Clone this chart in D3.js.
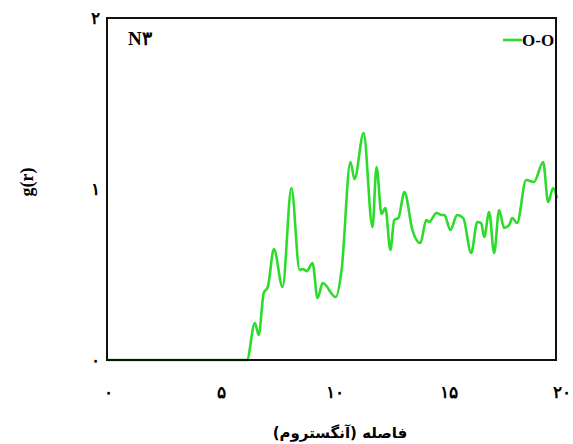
<!DOCTYPE html>
<html>
<head>
<meta charset="utf-8">
<script src="https://cdn.jsdelivr.net/npm/d3@7"></script>
<style>
  html, body { margin: 0; padding: 0; background: #fff; }
  svg { display: block; }
</style>
</head>
<body>
<svg id="chart" width="573" height="444"></svg>
<script>
// Radial distribution function g(r), O-O pair, sample N3
const distance = [0, 6.12, 6.47, 6.64, 6.86, 7.04, 7.31, 7.69, 8.08, 8.44, 8.58, 8.75, 9.01, 9.23, 9.46, 10.03,
  10.29, 10.68, 10.86, 11.26, 11.65, 11.83, 12.05, 12.22, 12.44, 12.61, 12.79, 13.06, 13.41, 13.76, 14.02,
  14.15, 14.47, 14.69, 14.82, 15.08, 15.38, 15.65, 16.00, 16.27, 16.44, 16.57, 16.79, 17.01, 17.23, 17.45,
  17.67, 17.81, 18.02, 18.42, 18.77, 19.17, 19.39, 19.61, 19.78];
const gOO = [0, 0, 0.216, 0.146, 0.392, 0.427, 0.649, 0.427, 1.006, 0.526, 0.532, 0.520, 0.567, 0.363, 0.450, 0.368,
  0.526, 1.158, 1.058, 1.327, 0.778, 1.129, 0.854, 0.889, 0.643, 0.819, 0.830, 0.982, 0.760, 0.684, 0.819,
  0.807, 0.860, 0.848, 0.848, 0.760, 0.848, 0.830, 0.626, 0.807, 0.801, 0.719, 0.865, 0.626, 0.877, 0.772,
  0.789, 0.830, 0.801, 1.053, 1.041, 1.158, 0.924, 1.006, 0.947];

const xTicks = [0, 5, 10, 15, 20];
const yTicks = [0, 1, 2];
const xMax = 19.78;          // right edge of the plotted range
const seriesName = "O-O";
const panelTitle = "N۳";
const xTitle = "فاصله (آنگستروم)";
const yTitle = "g(r)";

const toPersian = n => String(n).replace(/\d/g, d => "۰۱۲۳۴۵۶۷۸۹"[d]);

const svg = d3.select("#chart");
const x = d3.scaleLinear().domain([0, 20]).range([108, 562]);
const y = d3.scaleLinear().domain([0, 2]).range([360, 18]);

const serif = "'Liberation Serif', 'DejaVu Serif', serif";

// curve
const line = d3.line()
  .x((d, i) => x(distance[i]))
  .y(d => y(d))
  .curve(d3.curveMonotoneX);

svg.append("path")
  .datum(gOO)
  .attr("d", line)
  .attr("fill", "none")
  .attr("stroke", "#2bdc2b")
  .attr("stroke-width", 2.6)
  .attr("stroke-linejoin", "round");

// frame
svg.append("rect")
  .attr("x", x(0) - 1)
  .attr("y", y(2))
  .attr("width", x(xMax) - x(0))
  .attr("height", y(0) - y(2))
  .attr("fill", "none")
  .attr("stroke", "#111")
  .attr("stroke-width", 2);

// x tick labels
svg.append("g").selectAll("text")
  .data(xTicks)
  .join("text")
  .attr("x", d => x(d))
  .attr("y", 398)
  .attr("text-anchor", "middle")
  .attr("font-family", serif)
  .attr("font-weight", "bold")
  .attr("font-size", 17)
  .text(d => toPersian(d));

// y tick labels
svg.append("g").selectAll("text")
  .data(yTicks)
  .join("text")
  .attr("x", 95)
  .attr("y", d => y(d) + 6)
  .attr("text-anchor", "middle")
  .attr("font-family", serif)
  .attr("font-weight", "bold")
  .attr("font-size", 17)
  .text(d => toPersian(d));

// axis titles
svg.append("text")
  .attr("x", 340)
  .attr("y", 438)
  .attr("text-anchor", "middle")
  .attr("direction", "rtl")
  .attr("font-family", "'DejaVu Sans', sans-serif")
  .attr("font-weight", "bold")
  .attr("font-size", 15)
  .text(xTitle);

svg.append("text")
  .attr("transform", "translate(33,182) rotate(-90)")
  .attr("text-anchor", "middle")
  .attr("font-family", serif)
  .attr("font-weight", "bold")
  .attr("font-size", 18)
  .text(yTitle);

// panel title
svg.append("text")
  .attr("x", 128)
  .attr("y", 45)
  .attr("font-family", serif)
  .attr("font-weight", "bold")
  .attr("font-size", 19)
  .text(panelTitle);

// legend
svg.append("line")
  .attr("x1", 503).attr("x2", 522)
  .attr("y1", 40).attr("y2", 40)
  .attr("stroke", "#2bdc2b")
  .attr("stroke-width", 2.6);

svg.append("text")
  .attr("x", 522)
  .attr("y", 46)
  .attr("font-family", serif)
  .attr("font-weight", "bold")
  .attr("font-size", 17)
  .text(seriesName);
</script>
</body>
</html>
